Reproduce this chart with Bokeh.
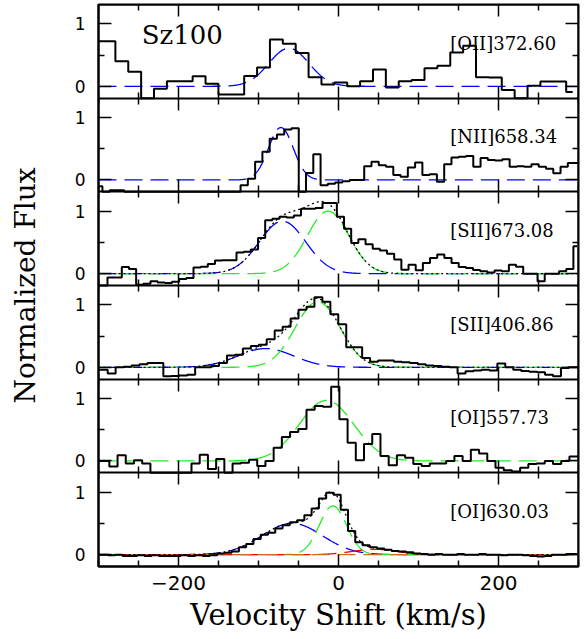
import numpy as np
from bokeh.plotting import figure
from bokeh.models import Range1d, LinearAxis, FixedTicker, Label
from bokeh.embed import file_html
from bokeh.resources import INLINE

# ---------------- data ----------------
object_name = "Sz100"
line_names = ["[OII]372.60", "[NII]658.34", "[SII]673.08",
              "[SII]406.86", "[OI]557.73", "[OI]630.03"]

# left edge of the first velocity bin and bin width (km/s) of each spectrum
bin_start = [-311.1, -304.2, -306.7, -308.4, -307.0, -306.3]
bin_width = [16.1, 9.09, 8.96, 9.94, 10.27, 9.09]

flux_oii = [0.72, 0.72, 0.40, 0.235, -0.25, -0.04, 0.08, 0.08, 0.16, 0.04,
            -0.13, -0.13, 0.165, 0.30, 0.75, 0.68, 0.535, 0.145, 0.03, 0.06,
            0.0, 0.08, 0.27, -0.02, 0.08, 0.10, 0.29, 0.33, 0.54, 0.65,
            0.145, 0.14, -0.06, -0.25, 0.01, 0.075, 0.075, -0.09]

flux_nii = [-0.10, -0.30, -0.165, -0.165, -0.30, -0.30, -0.30, -0.30, -0.30, -0.30,
            -0.30, -0.30, -0.30, -0.30, -0.30, -0.30, -0.30, -0.30, -0.30, -0.30,
            -0.085, 0.02, 0.29, 0.45, 0.66, 0.73, 0.81, 0.83, -0.30, 0.11,
            0.41, -0.085, -0.06, -0.04, -0.02, 0.0, 0.0, 0.22, 0.29, 0.235,
            0.21, 0.08, 0.05, 0.20, 0.28, 0.08, 0.09, -0.03, 0.25, 0.36,
            0.37, 0.385, 0.21, 0.35, 0.32, 0.31, 0.33, 0.21, 0.22, 0.21,
            0.25, 0.21, 0.18, 0.107, 0.21, 0.27, 0.27]

flux_sii_673 = [-0.19, -0.19, -0.06, -0.06, 0.107, 0.075, -0.176, -0.16, -0.12, -0.14,
                -0.15, -0.13, -0.085, -0.07, 0.10, 0.11, 0.155, 0.21, 0.215, 0.215,
                0.34, 0.35, 0.385, 0.57, 0.855, 0.88, 0.91, 0.90, 0.93, 1.04,
                1.04, 1.05, 1.13, 1.13, 0.91, 0.72, 0.49, 0.55, 0.47, 0.40,
                0.37, 0.32, 0.225, 0.064, 0.144, 0.053, 0.17, 0.25, 0.305, 0.25,
                0.17, 0.107, 0.09, 0.06, 0.037, 0.02, 0.05, 0.04, 0.144, 0.11,
                0.0, 0.0, -0.123, 0.0, 0.0, 0.037, 0.075, 0.44]

flux_sii_406 = [-0.04, -0.04, -0.10, 0.0, 0.01, 0.03, 0.05, 0.07, 0.07, -0.145,
                -0.14, -0.13, -0.12, 0.0, 0.0, 0.02, 0.07, 0.19, 0.20, 0.30,
                0.34, 0.36, 0.45, 0.59, 0.65, 0.78, 0.92, 0.97, 1.12, 1.05,
                0.85, 0.69, 0.32, 0.32, 0.15, 0.09, 0.11, 0.11, 0.09, 0.08,
                0.07, 0.05, 0.03, 0.02, 0.01, 0.0, -0.10, -0.065, -0.05, -0.04,
                -0.05, 0.06, 0.0, -0.04, -0.06, -0.07, -0.08, -0.12, -0.145, -0.01,
                0.0, 0.0]

flux_oi_557 = [0.0, 0.0, -0.09, 0.09, -0.04, 0.01, -0.04, -0.30, -0.30, -0.30,
               -0.30, -0.19, -0.04, 0.10, -0.13, 0.03, -0.19, -0.04, -0.03, 0.02,
               -0.08, 0.0, 0.21, 0.385, 0.465, 0.51, 0.82, 0.88, 0.87, 1.19,
               0.67, 0.29, 0.01, 0.27, 0.43, 0.08, -0.07, 0.09, 0.05, -0.05,
               -0.08, -0.04, -0.04, 0.0, 0.08, 0.0, 0.18, 0.12, 0.0, -0.11,
               -0.15, -0.17, -0.11, -0.05, -0.04, 0.0, -0.05, 0.0, 0.07, 0.07]

flux_oi_630 = [0.0, 0.0, -0.01, 0.0, -0.02, -0.02, -0.01, -0.02, -0.01, -0.02,
               -0.02, -0.02, -0.01, -0.02, -0.01, -0.02, -0.01, 0.02, 0.03, 0.05,
               0.12, 0.17, 0.25, 0.32, 0.35, 0.42, 0.47, 0.52, 0.55, 0.63,
               0.74, 0.90, 0.99, 0.96, 0.72, 0.38, 0.20, 0.15, 0.12, 0.10,
               0.08, 0.06, 0.05, 0.04, 0.02, 0.01, 0.0, 0.01, 0.0, 0.0,
               0.01, 0.0, 0.0, 0.01, 0.0, 0.0, -0.01, 0.0, 0.0, -0.01,
               -0.02, -0.03, -0.02, 0.0, 0.0, 0.01, 0.01]

fluxes = [flux_oii, flux_nii, flux_sii_673, flux_sii_406, flux_oi_557, flux_oi_630]

# Gaussian fit components of each panel: amplitude, centre (km/s), sigma (km/s), colour
comp_amp = [[0.61], [0.84], [0.84, 1.00], [0.30, 1.05], [0.97], [0.50, 0.78, 0.085, 0.0]]
comp_center = [[-62], [-72], [-70, -13], [-91, -26], [-15], [-58, -7, 45, 0]]
comp_sigma = [[25], [15.5], [29, 26], [35, 28], [34], [38, 17, 28, 30]]
comp_color = [["#0000ff"], ["#0000ff"], ["#0000ff", "#22ee22"], ["#0000ff", "#22ee22"],
              ["#22ee22"], ["#0000ff", "#22ee22", "#ff0000", "#d2691e"]]
show_sum = [False, False, True, True, False, True]

x_major_ticks = [-200, 0, 200]
x_minor_ticks = [-300, -250, -150, -100, -50, 50, 100, 150, 250, 300]
x_tick_labels = {-200: "\u2212200", 0: "0", 200: "200"}

# ---------------- layout ----------------
YLO, YHI = -0.19, 1.31          # local flux range of every panel
NP = len(fluxes)
SPAN = YHI - YLO

p = figure(width=587, height=639, output_backend="svg", toolbar_location=None,
           x_range=Range1d(-300, 300), y_range=Range1d(YLO, YLO + NP * SPAN),
           x_axis_type=None, y_axis_type=None,
           min_border_left=98, min_border_right=9, min_border_top=4, min_border_bottom=73)
p.outline_line_color = "black"
p.outline_line_width = 2
p.background_fill_color = "white"
p.border_fill_color = "white"

p.extra_y_ranges = {
    f"p{k}": Range1d(YLO - SPAN * (NP - 1 - k), YLO - SPAN * (NP - 1 - k) + NP * SPAN)
    for k in range(NP)
}

def style(ax, tin, tout):
    ax.axis_line_color = "black"
    ax.axis_line_width = 2
    ax.major_tick_line_color = "black"
    ax.minor_tick_line_color = "black"
    ax.major_tick_line_width = 1.5
    ax.minor_tick_line_width = 1.5
    ax.major_tick_in = tin
    ax.major_tick_out = tout
    ax.minor_tick_in = tin // 2
    ax.minor_tick_out = tout // 2
    ax.major_label_text_color = "black"
    ax.axis_label_text_color = "black"

def xticker():
    return FixedTicker(ticks=x_major_ticks, minor_ticks=x_minor_ticks)

# bottom axis
xax = LinearAxis(ticker=xticker(), major_label_overrides=x_tick_labels,
                 axis_label="Velocity Shift (km/s)")
style(xax, 12, 0)
xax.major_label_text_font = "DejaVu Sans"
xax.major_label_text_font_size = "20px"
xax.major_label_standoff = 9
xax.axis_label_text_font = "DejaVu Serif"
xax.axis_label_text_font_style = "normal"
xax.axis_label_text_font_size = "29px"
xax.axis_label_standoff = 5
p.add_layout(xax, "below")

# top frame ticks
tax = LinearAxis(ticker=xticker(), fixed_location=YLO + NP * SPAN)
style(tax, 12, 0)
tax.major_label_text_color = None
p.add_layout(tax, "above")

# panel separators with ticks into both panels
for m in range(1, NP):
    ax = LinearAxis(ticker=xticker(), fixed_location=YLO + m * SPAN)
    style(ax, 12, 12)
    ax.major_label_text_color = None
    p.add_layout(ax, "below")

# y ticks (0 and 1 of each panel, minor at 0.5)
y_major, y_minor, y_labels = [], [], {}
for k in range(NP):
    off = SPAN * (NP - 1 - k)
    y_major += [off + 0.0, off + 1.0]
    y_minor += [off + 0.5]
    y_labels[off + 0.0] = "0"
    y_labels[off + 1.0] = "1"

yax = LinearAxis(ticker=FixedTicker(ticks=y_major, minor_ticks=y_minor),
                 major_label_overrides=y_labels, axis_label="Normalized Flux")
style(yax, 13, 0)
yax.major_label_text_font = "DejaVu Sans"
yax.major_label_text_font_size = "17px"
yax.major_label_standoff = 13
yax.axis_label_text_font = "DejaVu Serif"
yax.axis_label_text_font_style = "normal"
yax.axis_label_text_font_size = "28px"
yax.axis_label_standoff = 30
p.add_layout(yax, "left")

rax = LinearAxis(ticker=FixedTicker(ticks=y_major, minor_ticks=y_minor), fixed_location=300)
style(rax, 13, 0)
rax.major_label_text_color = None
p.add_layout(rax, "right")

# ---------------- glyphs ----------------
vgrid = np.linspace(-300, 300, 1201)
for k in range(NP):
    rn = f"p{k}"
    flux = np.clip(np.array(fluxes[k]), YLO, YHI)
    centers = bin_start[k] + bin_width[k] * (np.arange(len(flux)) + 0.5)
    total = np.zeros_like(vgrid)
    for j, (a, c, s, col) in enumerate(zip(comp_amp[k], comp_center[k], comp_sigma[k], comp_color[k])):
        g = a * np.exp(-0.5 * ((vgrid - c) / s) ** 2)
        total += g
        p.line(vgrid, g, line_color=col, line_width=1.3, line_dash="18 8",
               line_dash_offset=7 * j, y_range_name=rn)
    if show_sum[k]:
        p.line(vgrid, total, line_color="black", line_width=1.3, line_dash="2 3", y_range_name=rn)
    p.step(centers, flux, mode="center", line_color="black", line_width=2, y_range_name=rn)
    p.add_layout(Label(x=139.6, y=0.69, y_range_name=rn, text=line_names[k],
                       text_font="DejaVu Serif", text_font_size="18px",
                       text_align="left", text_baseline="middle", text_color="black"))

p.add_layout(Label(x=-246, y=0.82, y_range_name="p0", text=object_name,
                   text_font="DejaVu Serif", text_font_size="26px",
                   text_align="left", text_baseline="middle", text_color="black"))

open("out.html", "w").write(file_html(p, INLINE))
